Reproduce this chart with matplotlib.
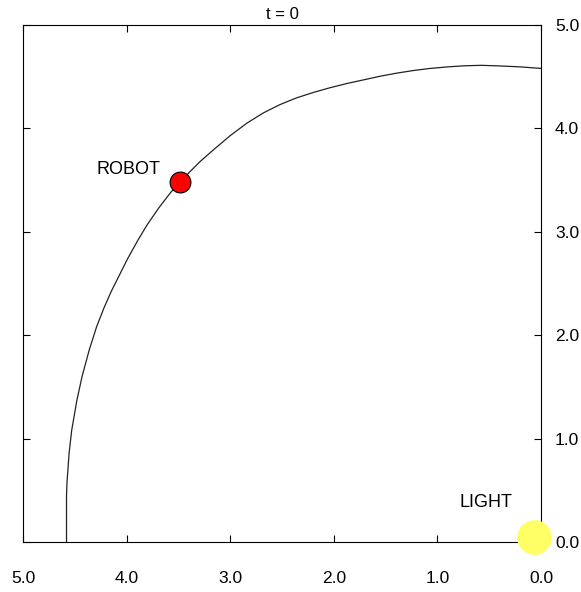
import matplotlib
matplotlib.use("Agg")
import matplotlib.pyplot as plt

# path of the robot
path_x = [4.58, 4.58, 4.575, 4.555, 4.53, 4.48, 4.43, 4.36, 4.29, 4.22, 4.15, 4.07,
          3.99, 3.89, 3.80, 3.69, 3.575, 3.485, 3.39, 3.29, 3.165, 3.00, 2.84, 2.68,
          2.52, 2.36, 2.19, 2.03, 1.87, 1.71, 1.55, 1.39, 1.23, 1.07, 0.90, 0.75,
          0.58, 0.42, 0.20, 0.0]
path_y = [0.0, 0.45, 0.58, 0.86, 1.08, 1.37, 1.60, 1.86, 2.08, 2.26, 2.42, 2.58,
          2.74, 2.92, 3.07, 3.23, 3.38, 3.48, 3.58, 3.68, 3.79, 3.93, 4.05, 4.15,
          4.23, 4.295, 4.35, 4.395, 4.435, 4.47, 4.505, 4.535, 4.56, 4.58, 4.595,
          4.605, 4.61, 4.605, 4.595, 4.58]

robot_x, robot_y = 3.485, 3.48
light_x, light_y = 0.07, 0.05

ticks = [0, 1, 2, 3, 4, 5]
tick_labels = ["0.0", "1.0", "2.0", "3.0", "4.0", "5.0"]

plt.rcParams['font.family'] = ['Liberation Sans', 'DejaVu Sans']

fig = plt.figure(figsize=(5.81, 5.92), dpi=100)
ax = fig.add_axes([23 / 581, 50 / 592, 518 / 581, 517 / 592])

ax.plot(path_x, path_y, color="#222222", linewidth=0.9)
ax.plot(robot_x, robot_y, "o", markersize=15, markerfacecolor="#ff0000",
        markeredgecolor="black", markeredgewidth=0.8, zorder=5)
ax.plot(light_x, light_y, "o", markersize=25, markerfacecolor="#ffff66",
        markeredgecolor="none", clip_on=False, zorder=5)

ax.text(3.98, 3.6, "ROBOT", fontsize=13, ha="center", va="center")
ax.text(0.53, 0.38, "LIGHT", fontsize=13, ha="center", va="center")

ax.set_xlim(5, 0)
ax.set_ylim(0, 5)
ax.set_xticks(ticks)
ax.set_xticklabels(tick_labels, fontsize=12.5)
ax.set_yticks(ticks)
ax.set_yticklabels(tick_labels, fontsize=12.5)
ax.yaxis.tick_right()
ax.tick_params(axis="both", direction="in", length=5, width=0.8,
               top=True, bottom=True, left=True, right=True)
ax.tick_params(axis="x", pad=21)
ax.tick_params(axis="y", pad=10, labelleft=False, labelright=True)
for s in ax.spines.values():
    s.set_linewidth(0.8)

ax.set_title("t = 0", fontsize=12, pad=4)

fig.savefig("out.png", dpi=100)
